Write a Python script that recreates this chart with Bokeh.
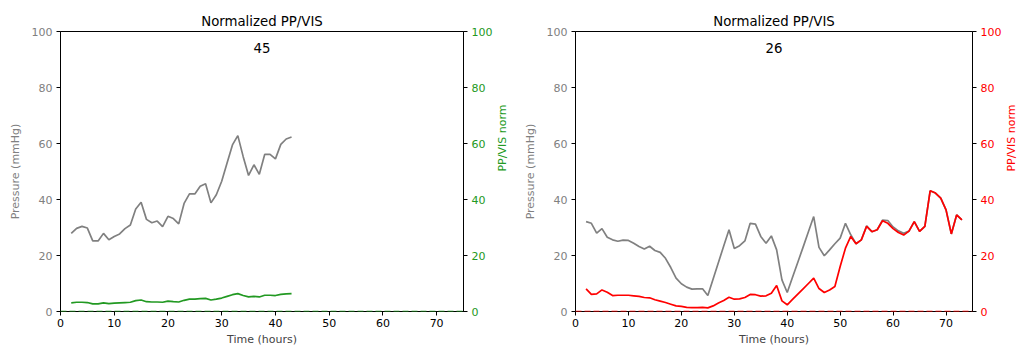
import math
from bokeh.plotting import figure
from bokeh.models import Range1d, LinearAxis, FixedTicker, Label, Span
from bokeh.layouts import row
from bokeh.embed import file_html
from bokeh.resources import INLINE

# ---------------- data ----------------
title_text = "Normalized PP/VIS"
x_label = "Time (hours)"
left_y_label = "Pressure (mmHg)"
right_y_label = "PP/VIS norm"
x_ticks = [0, 10, 20, 30, 40, 50, 60, 70]
y_ticks = [0, 20, 40, 60, 80, 100]
baseline_value = 0

left_count = "45"
left_hours = list(range(2, 44))
left_pressure = [27.9, 29.7, 30.4, 29.8, 25.2, 25.2, 27.9, 25.6, 26.8, 27.7,
                 29.6, 30.9, 36.6, 39.0, 32.9, 31.7, 32.3, 30.3, 34.0, 33.2,
                 31.3, 38.6, 42.0, 42.0, 44.7, 45.6, 38.8, 41.7, 46.5, 53.0,
                 59.5, 62.8, 55.3, 48.6, 52.4, 49.0, 56.1, 56.1, 54.5, 59.7,
                 61.6, 62.3]
left_norm = [3.1, 3.3, 3.3, 3.2, 2.7, 2.7, 3.1, 2.8, 3.0, 3.1,
             3.2, 3.3, 3.9, 4.1, 3.5, 3.4, 3.4, 3.3, 3.7, 3.5,
             3.4, 4.0, 4.4, 4.4, 4.6, 4.7, 4.1, 4.4, 4.8, 5.4,
             6.0, 6.4, 5.7, 5.2, 5.4, 5.2, 5.8, 5.8, 5.7, 6.1,
             6.3, 6.4]

right_count = "26"
right_hours = list(range(2, 74))
right_pressure = [32.1, 31.5, 28.0, 29.6, 26.5, 25.6, 25.1, 25.5, 25.4, 24.4,
                  23.2, 22.3, 23.3, 21.8, 21.1, 19.0, 15.7, 11.9, 9.9, 8.7,
                  8.0, 8.1, 8.1, 5.7, 11.6, 17.5, 23.4, 29.2, 22.5, 23.5,
                  25.2, 31.5, 31.2, 26.8, 24.4, 27.0, 22.0, 11.3, 6.8, 12.2,
                  17.6, 23.0, 28.5, 33.9, 22.9, 19.9, 22.0, 24.2, 26.2, 31.5,
                  27.4, 24.2, 25.6, 30.6, 28.5, 29.2, 32.6, 32.5, 30.2, 28.8,
                  27.9, 28.7, 32.1, 28.6, 30.4, 43.1, 42.3, 40.5, 36.3, 27.7,
                  34.5, 32.7]
right_norm = [8.1, 6.1, 6.3, 7.7, 6.9, 5.7, 5.8, 5.8, 5.8, 5.6,
              5.4, 5.0, 4.9, 4.2, 3.7, 3.2, 2.6, 2.0, 1.8, 1.5,
              1.4, 1.4, 1.5, 1.3, 2.0, 3.0, 3.9, 5.1, 4.4, 4.5,
              5.0, 6.1, 6.0, 5.5, 5.6, 6.5, 9.3, 3.8, 2.4, 4.3,
              6.2, 8.1, 10.0, 11.9, 8.2, 6.8, 7.7, 8.9, 16.1, 22.6,
              26.8, 24.2, 25.6, 30.4, 28.5, 29.2, 32.4, 31.5, 29.6, 28.2,
              27.3, 28.7, 32.1, 28.6, 30.4, 43.1, 42.3, 40.5, 36.3, 27.7,
              34.5, 32.7]

x_limits = (0, 75)
y_limits = (0, 100)

FONT = "DejaVu Sans"
GRAY = "#808080"
TICK_FS = "11px"
TITLE_FS = "13.3px"
LW = 1.7


def style_axis(ax, label_color):
    ax.ticker = FixedTicker(ticks=y_ticks)
    ax.major_label_text_font = FONT
    ax.major_label_text_font_size = TICK_FS
    ax.major_label_text_color = label_color
    ax.axis_label_text_font = FONT
    ax.axis_label_text_font_size = TICK_FS
    ax.axis_label_text_font_style = "normal"
    ax.axis_label_text_color = label_color
    ax.minor_tick_line_color = None
    ax.major_tick_in = 0
    ax.major_tick_out = 4
    ax.major_tick_line_color = "black"
    ax.axis_line_color = "black"
    ax.major_label_standoff = 4
    ax.axis_label_standoff = 7


def make_panel(width, b_left, b_right, b_top, hours, pressure, norm, color, count):
    p = figure(width=width, height=350, output_backend="svg", toolbar_location=None,
               x_range=Range1d(*x_limits), y_range=Range1d(*y_limits),
               min_border_left=b_left, min_border_right=b_right,
               min_border_top=b_top, min_border_bottom=39,
               background_fill_color="white", border_fill_color="white")
    p.extra_y_ranges = {"norm": Range1d(*y_limits)}
    p.title.text = title_text
    p.title.align = "center"
    p.title.text_font = FONT
    p.title.text_font_size = TITLE_FS
    p.title.text_font_style = "normal"
    p.title.text_color = "black"
    p.title.standoff = 5
    p.title.offset = 0
    p.xgrid.grid_line_color = None
    p.ygrid.grid_line_color = None
    p.outline_line_color = "black"
    p.outline_line_alpha = 1.0

    xa = p.xaxis[0]
    xa.ticker = FixedTicker(ticks=x_ticks)
    xa.axis_label = x_label
    xa.major_label_text_font = FONT
    xa.major_label_text_font_size = TICK_FS
    xa.major_label_text_color = "black"
    xa.axis_label_text_font = FONT
    xa.axis_label_text_font_size = TICK_FS
    xa.axis_label_text_font_style = "normal"
    xa.minor_tick_line_color = None
    xa.major_tick_in = 0
    xa.major_tick_out = 4
    xa.major_label_standoff = 3
    xa.axis_label_standoff = 3

    ya = p.yaxis[0]
    ya.axis_label = left_y_label
    style_axis(ya, GRAY)

    ra = LinearAxis(y_range_name="norm", axis_label=right_y_label)
    style_axis(ra, color)
    ra.axis_label_orientation = math.pi / 2
    p.add_layout(ra, "right")

    p.add_layout(Span(location=baseline_value, dimension="width", y_range_name="norm",
                      line_color=color, line_dash="6 3", line_width=LW))
    p.line(hours, pressure, line_color=GRAY, line_width=LW)
    p.line(hours, norm, line_color=color, line_width=LW, y_range_name="norm")

    p.add_layout(Label(x=sum(x_limits) / 2, y=94, text=count, text_align="center",
                       text_baseline="middle", text_font=FONT, text_font_size=TITLE_FS,
                       text_color="black"))
    return p


p1 = make_panel(520, 60, 57, 29, left_hours, left_pressure, left_norm, "#229922", left_count)
p2 = make_panel(507, 54, 53, 31, right_hours, right_pressure, right_norm, "#ff0000", right_count)

layout = row(p1, p2, spacing=0)
open("out.html", "w").write(file_html(layout, INLINE))
